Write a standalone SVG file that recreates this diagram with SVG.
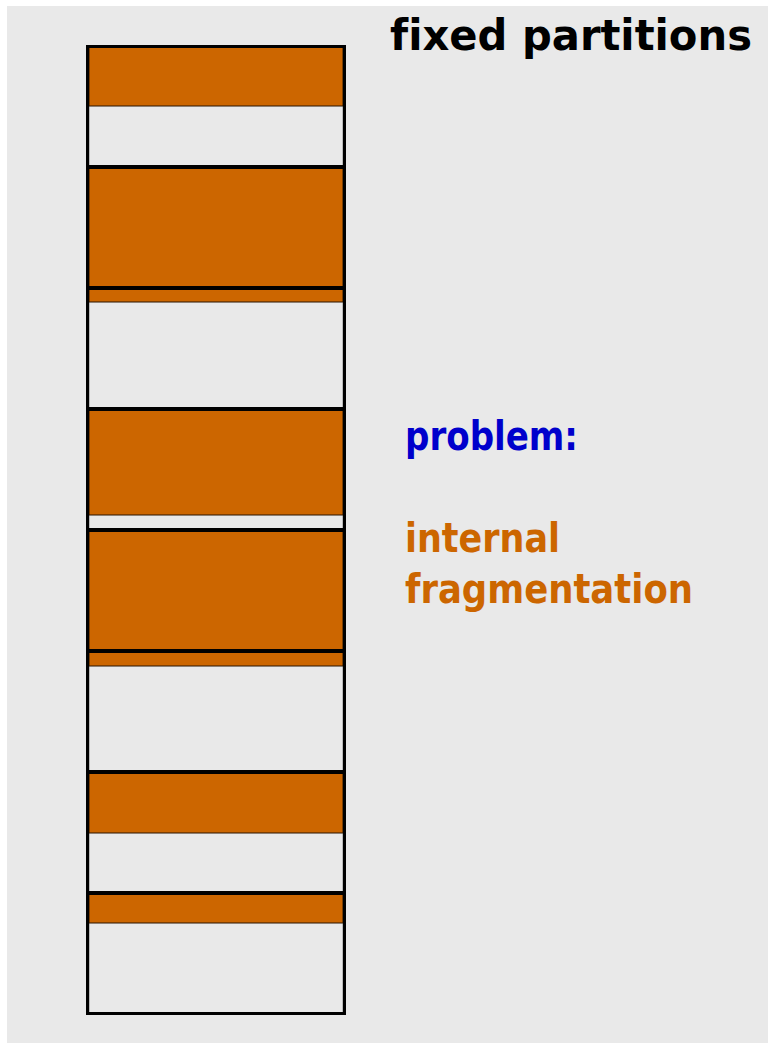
<svg xmlns="http://www.w3.org/2000/svg" width="768" height="1043" viewBox="0 0 768 1043">
<style>
.used{fill:#cc6600;stroke:#2a1400;stroke-width:1}
.free{fill:#e9e9e9;stroke:#888;stroke-width:1}
.div{stroke:#000;stroke-width:4}
.t{font-family:"DejaVu Sans","Liberation Sans",sans-serif;font-weight:bold;font-variant-ligatures:none}
</style>
<rect x="0" y="0" width="768" height="1043" fill="#ffffff"/>
<rect x="7" y="6" width="761" height="1037" fill="#e9e9e9"/>
<g id="memory">
<rect class="free" x="89" y="46" width="254" height="968"/>
<rect class="used" x="89" y="47" width="254" height="59"/>
<rect class="used" x="89" y="167" width="254" height="135"/>
<rect class="used" x="89" y="409" width="254" height="106"/>
<rect class="used" x="89" y="530" width="254" height="136"/>
<rect class="used" x="89" y="772" width="254" height="61"/>
<rect class="used" x="89" y="893" width="254" height="30"/>
</g>
<g id="partitions">
<line class="div" x1="86" y1="167" x2="346" y2="167"/>
<line class="div" x1="86" y1="288" x2="346" y2="288"/>
<line class="div" x1="86" y1="409" x2="346" y2="409"/>
<line class="div" x1="86" y1="530" x2="346" y2="530"/>
<line class="div" x1="86" y1="651" x2="346" y2="651"/>
<line class="div" x1="86" y1="772" x2="346" y2="772"/>
<line class="div" x1="86" y1="893" x2="346" y2="893"/>
<rect x="87.5" y="46.5" width="257" height="967" fill="none" stroke="#000" stroke-width="3"/>
</g>
<g id="labels">
<text class="t" x="390" y="50" font-size="42" fill="#000" textLength="362" lengthAdjust="spacingAndGlyphs">fixed partitions</text>
<text class="t" x="405" y="450" font-size="40" fill="#0000cc" textLength="173" lengthAdjust="spacingAndGlyphs">problem:</text>
<text class="t" x="405" y="552" font-size="40" fill="#cc6600" textLength="155" lengthAdjust="spacingAndGlyphs">internal</text>
<text class="t" x="405" y="603" font-size="40" fill="#cc6600" textLength="288" lengthAdjust="spacingAndGlyphs">fragmentation</text>
</g>
</svg>
